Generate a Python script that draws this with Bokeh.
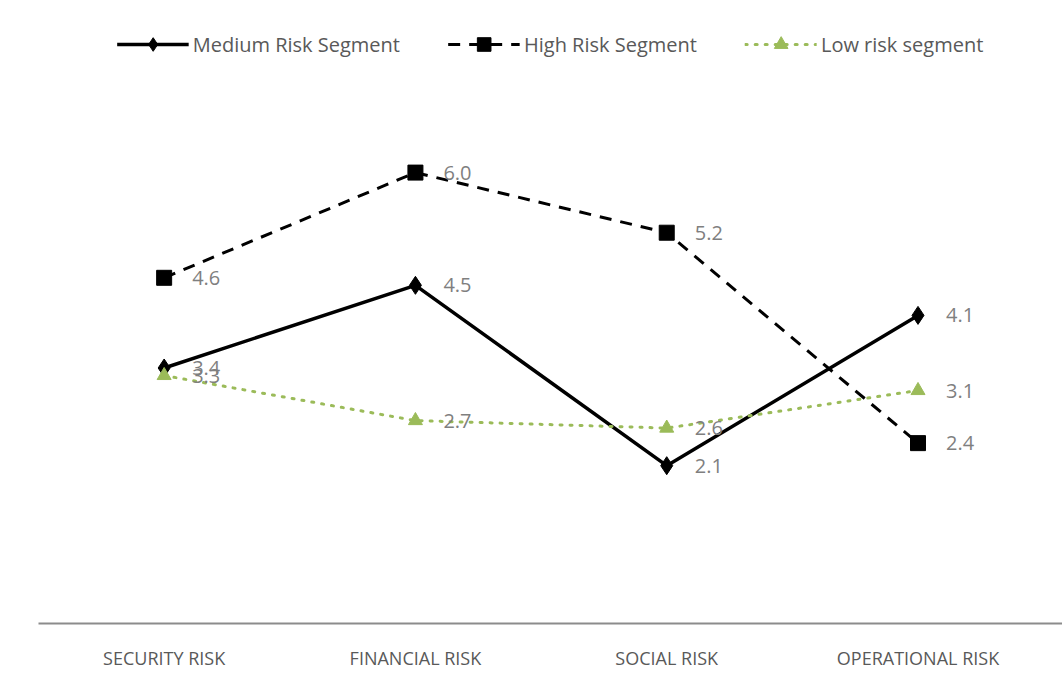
from bokeh.plotting import figure
from bokeh.models import Legend, LegendItem, Range1d, FixedTicker, LabelSet, ColumnDataSource
from bokeh.core.properties import value
from bokeh.embed import file_html
from bokeh.resources import INLINE

categories = ["SECURITY RISK", "FINANCIAL RISK", "SOCIAL RISK", "OPERATIONAL RISK"]
medium = [3.4, 4.5, 2.1, 4.1]
high = [4.6, 6.0, 5.2, 2.4]
low = [3.3, 2.7, 2.6, 3.1]
series_names = ["Medium Risk Segment", "High Risk Segment", "Low risk segment"]

xs = list(range(len(categories)))

p = figure(width=1062, height=675, output_backend="svg", toolbar_location=None,
           x_range=Range1d(-0.5, 3.575), y_range=Range1d(0, 8.29),
           min_border_left=38, min_border_right=0, min_border_top=0, min_border_bottom=52)
p.outline_line_color = None
p.grid.visible = False
p.yaxis.visible = False
p.xaxis.ticker = FixedTicker(ticks=xs)
p.xaxis.major_label_overrides = {i: c for i, c in enumerate(categories)}
p.xaxis.major_tick_line_color = None
p.xaxis.minor_tick_line_color = None
p.xaxis.axis_line_color = "#8c8c8c"
p.xaxis.axis_line_width = 2
p.xaxis.major_label_text_font = "Open Sans"
p.xaxis.major_label_text_font_size = "18px"
p.xaxis.major_label_text_color = "#595959"
p.xaxis.major_label_standoff = 16

green = "#9bbb59"

src_m = ColumnDataSource(dict(x=xs, y=medium, t=[f"{v:.1f}" for v in medium]))
src_h = ColumnDataSource(dict(x=xs, y=high, t=[f"{v:.1f}" for v in high]))
src_l = ColumnDataSource(dict(x=xs, y=low, t=[f"{v:.1f}" for v in low]))

m_line = p.line("x", "y", source=src_m, line_color="black", line_width=3.5)
m_mark = p.scatter("x", "y", source=src_m, marker="diamond", size=18, color="black")
h_line = p.line("x", "y", source=src_h, line_color="black", line_width=3, line_dash="12 9")
h_mark = p.scatter("x", "y", source=src_h, marker="square", size=15, color="black")
l_line = p.line("x", "y", source=src_l, line_color=green, line_width=3, line_dash="2 8", line_cap="round")
l_mark = p.scatter("x", "y", source=src_l, marker="triangle", size=14, color=green)

for src in (src_m, src_h, src_l):
    p.add_layout(LabelSet(x="x", y="y", text="t", source=src, x_offset=28, y_offset=0,
                          text_baseline="middle", text_font=value("Open Sans"),
                          text_font_size="20px", text_color="#7f7f7f"))

legend = Legend(items=[
    LegendItem(label=series_names[0], renderers=[m_line, m_mark]),
    LegendItem(label=series_names[1], renderers=[h_line, h_mark]),
    LegendItem(label=series_names[2], renderers=[l_line, l_mark]),
], orientation="horizontal", location="top_center")
legend.glyph_width = 72
legend.glyph_height = 34
legend.label_height = 34
legend.label_standoff = 4
legend.spacing = 48
legend.margin = 27
legend.padding = 2
legend.border_line_color = None
legend.background_fill_alpha = 0
legend.label_text_font = "Open Sans"
legend.label_text_font_size = "20px"
legend.label_text_color = "#595959"
p.add_layout(legend)

open("out.html", "w").write(file_html(p, INLINE))
